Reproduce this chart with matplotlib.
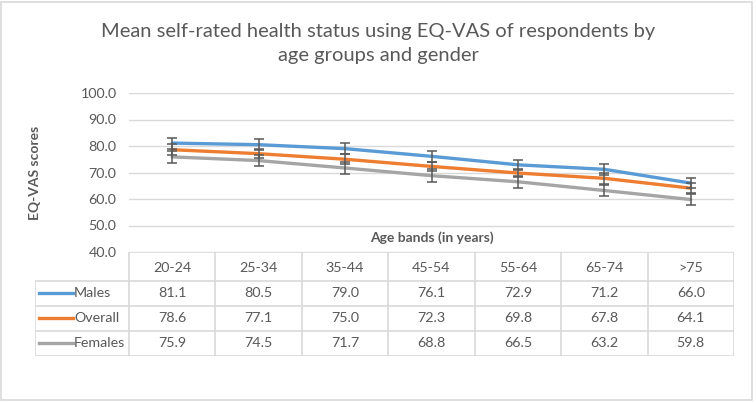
import numpy as np
import matplotlib.pyplot as plt
from matplotlib.patches import Rectangle

# data
age_bands = ["20-24", "25-34", "35-44", "45-54", "55-64", "65-74", ">75"]
males = [81.1, 80.5, 79.0, 76.1, 72.9, 71.2, 66.0]
overall = [78.6, 77.1, 75.0, 72.3, 69.8, 67.8, 64.1]
females = [75.9, 74.5, 71.7, 68.8, 66.5, 63.2, 59.8]
males_err = [2.1, 2.1, 2.0, 2.2, 1.9, 2.1, 2.0]
overall_err = [2.0, 1.7, 1.9, 1.7, 1.5, 2.0, 1.9]
females_err = [2.2, 2.2, 2.2, 2.4, 2.2, 2.2, 2.1]
yticks = [40, 50, 60, 70, 80, 90, 100]

series = [("Males", males, males_err, "#5B9BD5"),
          ("Overall", overall, overall_err, "#ED7D31"),
          ("Females", females, females_err, "#A5A5A5")]

txt = "#595959"
grid = "#D9D9D9"
plt.rcParams['font.family'] = ['Lato', 'DejaVu Sans']

W, H = 756, 403
fig = plt.figure(figsize=(W / 100, H / 100), dpi=100)

def box(x0, y0, x1, y1):
    # pixel box (top-left origin) -> figure fraction rect
    return [x0 / W, 1 - y1 / H, (x1 - x0) / W, (y1 - y0) / H]

fig.patches.append(Rectangle((1 / W, 3 / H), 751 / W, 398 / H, transform=fig.transFigure,
                             fill=False, edgecolor=grid, lw=1.2))

fig.text(378 / W, 1 - 31 / H, "Mean self-rated health status using EQ-VAS of respondents by",
         ha="center", va="center", fontsize=14.5, color=txt)
fig.text(378 / W, 1 - 56 / H, "age groups and gender",
         ha="center", va="center", fontsize=14.5, color=txt)

# chart area
ax = fig.add_axes(box(129, 93, 734, 252))
x = np.arange(len(age_bands))
for name, vals, err, col in series:
    ax.plot(x, vals, color=col, lw=2.4, solid_capstyle="round", zorder=3)
    ax.errorbar(x, vals, yerr=err, fmt="none", ecolor="#595959", elinewidth=1.1,
                capsize=3.4, capthick=1.1, zorder=4)
ax.set_xlim(-0.5, len(age_bands) - 0.5)
ax.set_ylim(40, 100)
ax.set_yticks(yticks)
ax.set_yticklabels([f"{v:.1f}" for v in yticks], fontsize=10.3, color=txt)
ax.set_xticks([])
ax.tick_params(axis="y", length=0, pad=9)
for v in yticks:
    ax.axhline(v, color=grid, lw=1, zorder=1)
for s in ax.spines.values():
    s.set_visible(False)
ax.set_ylabel("EQ-VAS scores", fontsize=10, fontweight="bold", color=txt)
ax.yaxis.set_label_coords(-88 / 605, 0.5)
ax.text(0.5, 45.5, "Age bands (in years)", ha="center", va="center", fontsize=10,
        fontweight="bold", color=txt, transform=ax.get_yaxis_transform())

# data table under the chart
tab = fig.add_axes(box(35, 252, 734, 356))
lab_w = 94 / ((734 - 129) / 7)
tab.set_xlim(-lab_w, len(age_bands))
row_tops = [0, 1.12, 2.06, 3.03, 4]
tab.set_ylim(4, 0)
tab.axis("off")
# header row and columns
tab.plot([0, len(age_bands)], [0, 0], color=grid, lw=1.2)
for r in row_tops[1:]:
    tab.plot([-lab_w, len(age_bands)], [r, r], color=grid, lw=1.2)
for c in range(len(age_bands) + 1):
    tab.plot([c, c], [0, 4], color=grid, lw=1.2)
tab.plot([-lab_w, -lab_w], [row_tops[1], 4], color=grid, lw=1.2)
for i, lab in enumerate(age_bands):
    tab.text(i + 0.5, row_tops[0] + 0.6, lab, ha="center", va="center", fontsize=10.3, color=txt)
for j, (name, vals, err, col) in enumerate(series):
    yc = (row_tops[j + 1] + row_tops[j + 2]) / 2
    tab.plot([-lab_w + 0.05, -lab_w + 0.44], [yc, yc], color=col, lw=2.4)
    tab.text(-lab_w + 0.45, yc, name, ha="left", va="center", fontsize=10.3, color=txt)
    for i, v in enumerate(vals):
        tab.text(i + 0.5, yc, f"{v:.1f}", ha="center", va="center", fontsize=10.3, color=txt)

fig.savefig("out.png", dpi=100)
